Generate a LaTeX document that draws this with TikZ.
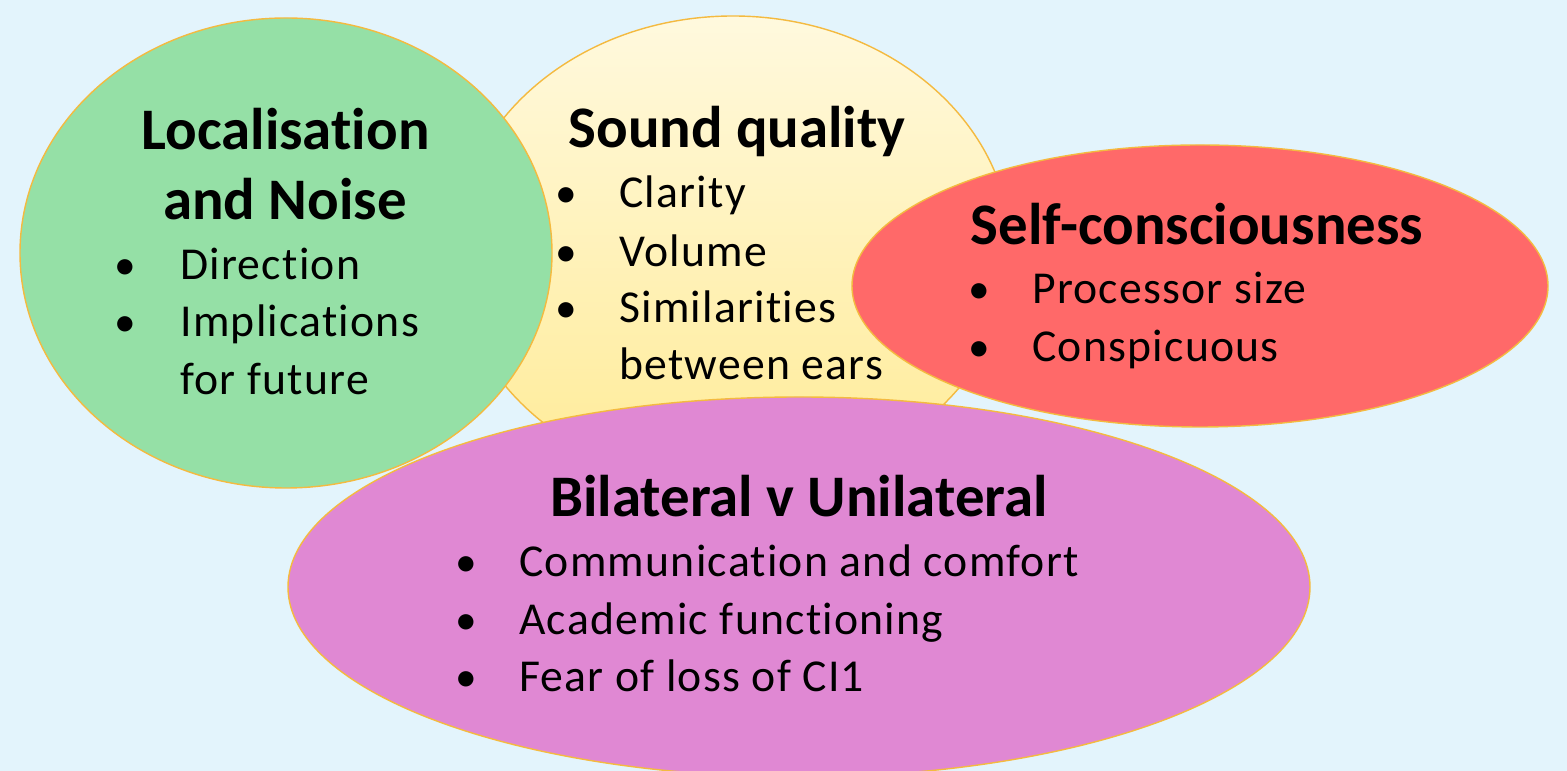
\documentclass[tikz,border=0pt]{standalone}
\usepackage{fontspec}
\setmainfont[Ligatures=NoCommon]{Carlito}
\newfontfamily\bodyfont[Ligatures=NoCommon,LetterSpace=2.7]{Carlito}
\definecolor{bgblue}{RGB}{227,244,252}
\definecolor{rimgold}{RGB}{244,186,64}
\definecolor{locgreen}{RGB}{149,224,166}
\definecolor{sndtop}{RGB}{255,249,222}
\definecolor{sndbot}{RGB}{255,235,150}
\definecolor{selfred}{RGB}{255,105,105}
\definecolor{bilpink}{RGB}{224,136,211}
\tikzset{
  blob/.style={draw=rimgold,line width=0.8pt},
  head/.style={anchor=base,inner sep=0pt,font=\fontsize{33.5}{40}\selectfont\bfseries},
  item/.style={anchor=base west,inner sep=0pt,font=\fontsize{26}{31}\bodyfont},
  dot/.style={anchor=base,inner sep=0pt,font=\fontsize{24.7}{30}\selectfont}
}
\begin{document}
\begin{tikzpicture}
\fill[bgblue] (0,0) rectangle (31.34,15.42);
\useasboundingbox (0,0) rectangle (31.34,15.42);
% the four ellipses, back to front
\draw[blob,top color=sndtop,bottom color=sndbot] (14.66,10.40) ellipse (5.56 and 4.70);
\draw[blob,fill=locgreen] (5.72,10.36) ellipse (5.32 and 4.70);
\draw[blob,fill=selfred] (24.00,9.70) ellipse (6.96 and 2.82);
\draw[blob,fill=bilpink] (15.98,3.68) ellipse (10.22 and 3.80);
% Localisation and Noise
\node[head] (loctitle) at (5.71,12.42) {Localisation};
\node[head] (locsub) at (5.70,11.02) {and Noise};
\foreach \y/\t [count=\i] in {9.82/Direction,8.68/Implications}{
  \node[dot] (locdot\i) at (2.51,\y) {\textbullet};
  \node[item] (loc\i) at (3.60,\y) {\t};
}
\node[item] (loc3) at (3.60,7.52) {for future};
% Sound quality
\node[head] (sndtitle) at (14.74,12.46) {Sound quality};
\foreach \y/\t [count=\i] in {11.26/Clarity,10.08/Volume,8.96/Similarities}{
  \node[dot] (snddot\i) at (11.32,\y) {\textbullet};
  \node[item] (snd\i) at (12.38,\y) {\t};
}
\node[item] (snd4) at (12.38,7.82) {between ears};
% Self-consciousness
\node[head] (selftitle) at (23.94,10.52) {Self-consciousness};
\foreach \y/\t [count=\i] in {9.34/Processor size,8.18/Conspicuous}{
  \node[dot] (selfdot\i) at (19.58,\y) {\textbullet};
  \node[item] (self\i) at (20.64,\y) {\t};
}
% Bilateral v Unilateral
\node[head] (biltitle) at (15.98,5.08) {Bilateral v Unilateral};
\foreach \y/\t [count=\i] in {3.88/Communication and comfort,2.72/Academic functioning,1.58/Fear of loss of CI1}{
  \node[dot] (bildot\i) at (9.32,\y) {\textbullet};
  \node[item] (bil\i) at (10.38,\y) {\t};
}
\end{tikzpicture}
\end{document}
